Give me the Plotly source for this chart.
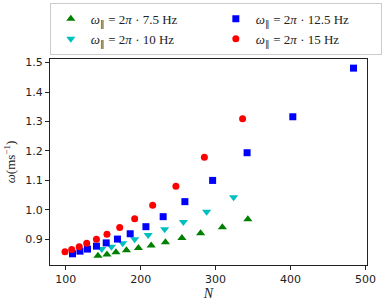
import plotly.graph_objects as go

# ---- data ----
N_75 = [143, 155, 167, 181, 197, 214, 233, 255, 280, 309, 343]
w_75 = [0.844, 0.849, 0.856, 0.863, 0.871, 0.879, 0.890, 0.905, 0.921, 0.941, 0.968]

N_10 = [148, 161, 176, 192, 210, 232, 257, 288, 324]
w_10 = [0.867, 0.875, 0.887, 0.900, 0.915, 0.934, 0.959, 0.994, 1.043]

N_125 = [109, 119, 129, 141, 154, 169, 186, 207, 230, 259, 296, 342, 403, 484]
w_125 = [0.851, 0.860, 0.867, 0.877, 0.888, 0.901, 0.919, 0.943, 0.977, 1.028, 1.100, 1.194, 1.316, 1.481]

N_15 = [99, 108, 118, 128, 141, 155, 172, 192, 216, 247, 285, 336]
w_15 = [0.858, 0.866, 0.875, 0.887, 0.900, 0.917, 0.940, 0.970, 1.016, 1.080, 1.179, 1.309]

labels = [
    "<i>ω</i><sub>∥</sub> = 2<i>π</i> · 7.5 Hz",
    "<i>ω</i><sub>∥</sub> = 2<i>π</i> · 10 Hz",
    "<i>ω</i><sub>∥</sub> = 2<i>π</i> · 12.5 Hz",
    "<i>ω</i><sub>∥</sub> = 2<i>π</i> · 15 Hz",
]
x_ticks = [100, 200, 300, 400, 500]
y_ticks = [0.9, 1.0, 1.1, 1.2, 1.3, 1.4, 1.5]

fig = go.Figure()
series = [
    (N_75, w_75, labels[0], "#008000", "triangle-up", 8, 1),
    (N_10, w_10, labels[1], "#00BFBF", "triangle-down", 8, 3),
    (N_125, w_125, labels[2], "#0000FF", "square", 7, 2),
    (N_15, w_15, labels[3], "#FF0000", "circle", 7, 4),
]
for xs, ys, name, col, sym, sz, rank in series:
    fig.add_trace(go.Scatter(
        x=xs, y=ys, mode="markers", name=name, legendrank=rank,
        marker=dict(color=col, symbol=sym, size=sz, line=dict(width=0)),
    ))

axis_common = dict(
    showgrid=False, zeroline=False, showline=True, mirror=True,
    linecolor="#222222", linewidth=1, ticks="outside", ticklen=4,
    tickwidth=1, tickcolor="#222222",
    tickfont=dict(family="DejaVu Sans", size=11, color="#222222"),
)
fig.update_xaxes(range=[79, 502], tickvals=x_ticks,
                 title=dict(text="<i>N</i>", font=dict(family="Liberation Serif", size=14, color="#222222"), standoff=2),
                 **axis_common)
fig.update_yaxes(range=[0.813, 1.512], tickvals=y_ticks, tickformat=".1f",
                 title=dict(text="<i>ω</i>(ms<sup>−1</sup>)", font=dict(family="Liberation Serif", size=13, color="#222222"), standoff=6),
                 **axis_common)

fig.update_layout(
    width=382, height=308,
    margin=dict(l=50, r=15, t=59, b=43, autoexpand=False),
    paper_bgcolor="white", plot_bgcolor="white",
    showlegend=True,
    legend=dict(
        orientation="h", x=-0.0005, xanchor="left", y=1.02, yanchor="bottom",
        entrywidth=120, entrywidthmode="pixels",
        bgcolor="white", bordercolor="#cccccc", borderwidth=1,
        font=dict(family="Liberation Serif", size=13, color="#222222"),
        traceorder="normal", itemwidth=30,
    ),
)

fig.write_html(
    "out.html",
    config={"displayModeBar": False},
    post_script="document.body.style.margin='0';document.body.style.padding='0';",
)
